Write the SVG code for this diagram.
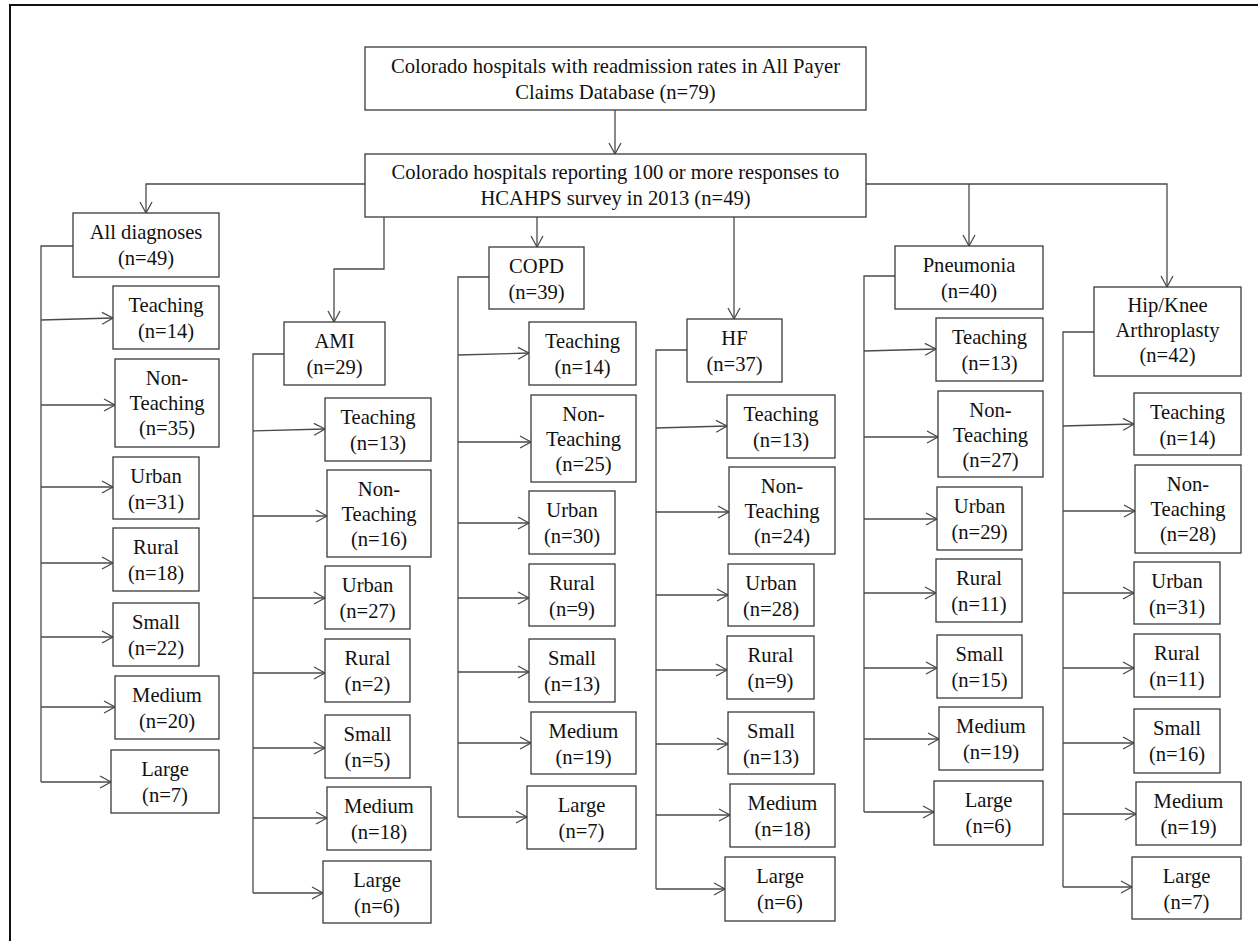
<svg xmlns="http://www.w3.org/2000/svg" width="1258" height="941" viewBox="0 0 1258 941">
<style>
.box{fill:#fff;stroke:#3a3a3a;stroke-width:1.3}
.t{font-family:"Liberation Serif","Times New Roman",serif;font-size:20.6px;fill:#111;text-anchor:middle}
.c{fill:none;stroke:#4a4a4a;stroke-width:1.3}
.a{fill:none;stroke:#4a4a4a;stroke-width:1.3;marker-end:url(#ah)}
</style>
<defs>
<marker id="ah" viewBox="0 0 12 12" markerWidth="12" markerHeight="12" refX="11" refY="6" orient="auto" markerUnits="userSpaceOnUse" overflow="visible">
<path d="M0,0 L11,6 L0,12" fill="none" stroke="#4a4a4a" stroke-width="1.3"/>
</marker>
</defs>
<rect x="0" y="0" width="1258" height="941" fill="#fff"/>
<path d="M10,941 V5 H1258" fill="none" stroke="#111" stroke-width="2"/>

<g id="connectors">
<path class="a" d="M615,110 V154"/>
<path class="a" d="M365,184 H146 V213"/>
<path class="a" d="M384,217 V269 H334 V322"/>
<path class="a" d="M537,217 V247"/>
<path class="a" d="M734,217 V319"/>
<path class="a" d="M866,184 H1167 V287"/>
<path class="a" d="M969,184 V246"/>

<path class="c" d="M73,246 H41 V782"/>
<path class="a" d="M41,320 L113,318"/>
<path class="a" d="M41,405 H115"/>
<path class="a" d="M41,487 H113"/>
<path class="a" d="M41,563 H113"/>
<path class="a" d="M41,637 H113"/>
<path class="a" d="M41,707 H115"/>
<path class="a" d="M41,782 H111"/>

<path class="c" d="M284,354 H253 V893"/>
<path class="a" d="M253,431 L325,429"/>
<path class="a" d="M253,516 H327"/>
<path class="a" d="M253,598 H325"/>
<path class="a" d="M253,673 H325"/>
<path class="a" d="M253,748 H325"/>
<path class="a" d="M253,818 H327"/>
<path class="a" d="M253,893 H323"/>

<path class="c" d="M489,277 H458 V817"/>
<path class="a" d="M458,355 L529,353"/>
<path class="a" d="M458,442 H531"/>
<path class="a" d="M458,523 H529"/>
<path class="a" d="M458,598 H529"/>
<path class="a" d="M458,672 H529"/>
<path class="a" d="M458,743 H531"/>
<path class="a" d="M458,817 H527"/>

<path class="c" d="M687,350 H656 V889"/>
<path class="a" d="M656,428 L727,426"/>
<path class="a" d="M656,512 H729"/>
<path class="a" d="M656,595 H728"/>
<path class="a" d="M656,670 H727"/>
<path class="a" d="M656,744 H728"/>
<path class="a" d="M656,815 H730"/>
<path class="a" d="M656,889 H725"/>

<path class="c" d="M895,276 H864 V812"/>
<path class="a" d="M864,351 L936,349"/>
<path class="a" d="M864,437 H938"/>
<path class="a" d="M864,519 H937"/>
<path class="a" d="M864,593 H936"/>
<path class="a" d="M864,668 H937"/>
<path class="a" d="M864,739 H939"/>
<path class="a" d="M864,812 H934"/>

<path class="c" d="M1094,332 H1063 V887"/>
<path class="a" d="M1063,426 L1134,424"/>
<path class="a" d="M1063,511 H1135"/>
<path class="a" d="M1063,593 H1134"/>
<path class="a" d="M1063,668 H1134"/>
<path class="a" d="M1063,743 H1134"/>
<path class="a" d="M1063,814 H1136"/>
<path class="a" d="M1063,887 H1132"/>
</g>

<g id="n-top"><rect class="box" x="365" y="47" width="501" height="63"/><text class="t" x="615.5" y="73">Colorado hospitals with readmission rates in All Payer</text><text class="t" x="615.5" y="99">Claims Database (n=79)</text></g>
<g id="n-hcahps"><rect class="box" x="365" y="154" width="501" height="63"/><text class="t" x="615.5" y="179">Colorado hospitals reporting 100 or more responses to</text><text class="t" x="615.5" y="205">HCAHPS survey in 2013 (n=49)</text></g>

<g id="n-all"><rect class="box" x="73" y="213" width="146" height="64"/><text class="t" x="146" y="239">All diagnoses</text><text class="t" x="146" y="265">(n=49)</text></g>
<g id="n-all-teach"><rect class="box" x="113" y="286" width="106" height="63"/><text class="t" x="166" y="312">Teaching</text><text class="t" x="166" y="338">(n=14)</text></g>
<g id="n-all-nonteach"><rect class="box" x="115" y="359" width="104" height="88"/><text class="t" x="167" y="385">Non-</text><text class="t" x="167" y="410">Teaching</text><text class="t" x="167" y="435">(n=35)</text></g>
<g id="n-all-urban"><rect class="box" x="113" y="457" width="86" height="62"/><text class="t" x="156" y="483">Urban</text><text class="t" x="156" y="509">(n=31)</text></g>
<g id="n-all-rural"><rect class="box" x="113" y="528" width="86" height="63"/><text class="t" x="156" y="554">Rural</text><text class="t" x="156" y="580">(n=18)</text></g>
<g id="n-all-small"><rect class="box" x="113" y="603" width="86" height="63"/><text class="t" x="156" y="629">Small</text><text class="t" x="156" y="655">(n=22)</text></g>
<g id="n-all-medium"><rect class="box" x="115" y="676" width="104" height="63"/><text class="t" x="167" y="702">Medium</text><text class="t" x="167" y="728">(n=20)</text></g>
<g id="n-all-large"><rect class="box" x="111" y="750" width="108" height="63"/><text class="t" x="165" y="776">Large</text><text class="t" x="165" y="802">(n=7)</text></g>

<g id="n-ami"><rect class="box" x="284" y="322" width="101" height="63"/><text class="t" x="334.5" y="348">AMI</text><text class="t" x="334.5" y="374">(n=29)</text></g>
<g id="n-ami-teach"><rect class="box" x="325" y="398" width="106" height="63"/><text class="t" x="378" y="424">Teaching</text><text class="t" x="378" y="450">(n=13)</text></g>
<g id="n-ami-nonteach"><rect class="box" x="327" y="470" width="104" height="87"/><text class="t" x="379" y="496">Non-</text><text class="t" x="379" y="521">Teaching</text><text class="t" x="379" y="546">(n=16)</text></g>
<g id="n-ami-urban"><rect class="box" x="325" y="566" width="85" height="63"/><text class="t" x="367.5" y="592">Urban</text><text class="t" x="367.5" y="618">(n=27)</text></g>
<g id="n-ami-rural"><rect class="box" x="325" y="639" width="85" height="63"/><text class="t" x="367.5" y="665">Rural</text><text class="t" x="367.5" y="691">(n=2)</text></g>
<g id="n-ami-small"><rect class="box" x="325" y="715" width="85" height="63"/><text class="t" x="367.5" y="741">Small</text><text class="t" x="367.5" y="767">(n=5)</text></g>
<g id="n-ami-medium"><rect class="box" x="327" y="787" width="104" height="63"/><text class="t" x="379" y="813">Medium</text><text class="t" x="379" y="839">(n=18)</text></g>
<g id="n-ami-large"><rect class="box" x="323" y="861" width="108" height="62"/><text class="t" x="377" y="887">Large</text><text class="t" x="377" y="913">(n=6)</text></g>

<g id="n-copd"><rect class="box" x="489" y="247" width="95" height="62"/><text class="t" x="536.5" y="273">COPD</text><text class="t" x="536.5" y="299">(n=39)</text></g>
<g id="n-copd-teach"><rect class="box" x="529" y="322" width="107" height="63"/><text class="t" x="582.5" y="348">Teaching</text><text class="t" x="582.5" y="374">(n=14)</text></g>
<g id="n-copd-nonteach"><rect class="box" x="531" y="395" width="105" height="87"/><text class="t" x="583.5" y="421">Non-</text><text class="t" x="583.5" y="446">Teaching</text><text class="t" x="583.5" y="471">(n=25)</text></g>
<g id="n-copd-urban"><rect class="box" x="529" y="491" width="86" height="63"/><text class="t" x="572" y="517">Urban</text><text class="t" x="572" y="543">(n=30)</text></g>
<g id="n-copd-rural"><rect class="box" x="529" y="564" width="86" height="62"/><text class="t" x="572" y="590">Rural</text><text class="t" x="572" y="616">(n=9)</text></g>
<g id="n-copd-small"><rect class="box" x="529" y="639" width="86" height="63"/><text class="t" x="572" y="665">Small</text><text class="t" x="572" y="691">(n=13)</text></g>
<g id="n-copd-medium"><rect class="box" x="531" y="712" width="105" height="62"/><text class="t" x="583.5" y="738">Medium</text><text class="t" x="583.5" y="764">(n=19)</text></g>
<g id="n-copd-large"><rect class="box" x="527" y="786" width="109" height="63"/><text class="t" x="581.5" y="812">Large</text><text class="t" x="581.5" y="838">(n=7)</text></g>

<g id="n-hf"><rect class="box" x="687" y="319" width="95" height="63"/><text class="t" x="734.5" y="345">HF</text><text class="t" x="734.5" y="371">(n=37)</text></g>
<g id="n-hf-teach"><rect class="box" x="727" y="395" width="108" height="63"/><text class="t" x="781" y="421">Teaching</text><text class="t" x="781" y="447">(n=13)</text></g>
<g id="n-hf-nonteach"><rect class="box" x="729" y="467" width="106" height="87"/><text class="t" x="782" y="493">Non-</text><text class="t" x="782" y="518">Teaching</text><text class="t" x="782" y="543">(n=24)</text></g>
<g id="n-hf-urban"><rect class="box" x="728" y="564" width="86" height="62"/><text class="t" x="771" y="590">Urban</text><text class="t" x="771" y="616">(n=28)</text></g>
<g id="n-hf-rural"><rect class="box" x="727" y="636" width="87" height="63"/><text class="t" x="770.5" y="662">Rural</text><text class="t" x="770.5" y="688">(n=9)</text></g>
<g id="n-hf-small"><rect class="box" x="728" y="712" width="86" height="62"/><text class="t" x="771" y="738">Small</text><text class="t" x="771" y="764">(n=13)</text></g>
<g id="n-hf-medium"><rect class="box" x="730" y="784" width="105" height="63"/><text class="t" x="782.5" y="810">Medium</text><text class="t" x="782.5" y="836">(n=18)</text></g>
<g id="n-hf-large"><rect class="box" x="725" y="857" width="110" height="64"/><text class="t" x="780" y="883">Large</text><text class="t" x="780" y="909">(n=6)</text></g>

<g id="n-pneu"><rect class="box" x="895" y="246" width="148" height="63"/><text class="t" x="969" y="272">Pneumonia</text><text class="t" x="969" y="298">(n=40)</text></g>
<g id="n-pneu-teach"><rect class="box" x="936" y="318" width="107" height="63"/><text class="t" x="989.5" y="344">Teaching</text><text class="t" x="989.5" y="370">(n=13)</text></g>
<g id="n-pneu-nonteach"><rect class="box" x="938" y="391" width="105" height="86"/><text class="t" x="990.5" y="417">Non-</text><text class="t" x="990.5" y="442">Teaching</text><text class="t" x="990.5" y="467">(n=27)</text></g>
<g id="n-pneu-urban"><rect class="box" x="937" y="487" width="85" height="63"/><text class="t" x="979.5" y="513">Urban</text><text class="t" x="979.5" y="539">(n=29)</text></g>
<g id="n-pneu-rural"><rect class="box" x="936" y="559" width="86" height="63"/><text class="t" x="979" y="585">Rural</text><text class="t" x="979" y="611">(n=11)</text></g>
<g id="n-pneu-small"><rect class="box" x="937" y="635" width="85" height="63"/><text class="t" x="979.5" y="661">Small</text><text class="t" x="979.5" y="687">(n=15)</text></g>
<g id="n-pneu-medium"><rect class="box" x="939" y="707" width="104" height="63"/><text class="t" x="991" y="733">Medium</text><text class="t" x="991" y="759">(n=19)</text></g>
<g id="n-pneu-large"><rect class="box" x="934" y="781" width="109" height="64"/><text class="t" x="988.5" y="807">Large</text><text class="t" x="988.5" y="833">(n=6)</text></g>

<g id="n-hip"><rect class="box" x="1094" y="287" width="147" height="89"/><text class="t" x="1167.5" y="312">Hip/Knee</text><text class="t" x="1167.5" y="337">Arthroplasty</text><text class="t" x="1167.5" y="362">(n=42)</text></g>
<g id="n-hip-teach"><rect class="box" x="1134" y="393" width="107" height="62"/><text class="t" x="1187.5" y="419">Teaching</text><text class="t" x="1187.5" y="445">(n=14)</text></g>
<g id="n-hip-nonteach"><rect class="box" x="1135" y="465" width="106" height="88"/><text class="t" x="1188" y="491">Non-</text><text class="t" x="1188" y="516">Teaching</text><text class="t" x="1188" y="541">(n=28)</text></g>
<g id="n-hip-urban"><rect class="box" x="1134" y="562" width="86" height="62"/><text class="t" x="1177" y="588">Urban</text><text class="t" x="1177" y="614">(n=31)</text></g>
<g id="n-hip-rural"><rect class="box" x="1134" y="634" width="86" height="63"/><text class="t" x="1177" y="660">Rural</text><text class="t" x="1177" y="686">(n=11)</text></g>
<g id="n-hip-small"><rect class="box" x="1134" y="709" width="86" height="64"/><text class="t" x="1177" y="735">Small</text><text class="t" x="1177" y="761">(n=16)</text></g>
<g id="n-hip-medium"><rect class="box" x="1136" y="782" width="105" height="63"/><text class="t" x="1188.5" y="808">Medium</text><text class="t" x="1188.5" y="834">(n=19)</text></g>
<g id="n-hip-large"><rect class="box" x="1132" y="857" width="109" height="62"/><text class="t" x="1186.5" y="883">Large</text><text class="t" x="1186.5" y="909">(n=7)</text></g>
</svg>
